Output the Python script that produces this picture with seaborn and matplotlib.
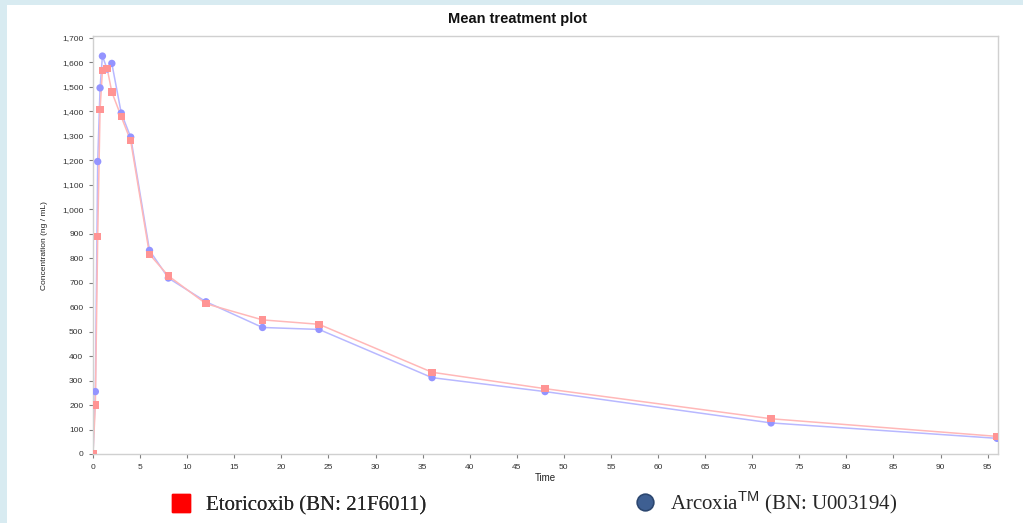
import matplotlib
matplotlib.use("Agg")
import matplotlib.pyplot as plt
import seaborn as sns
import pandas as pd
from matplotlib.lines import Line2D
from matplotlib.patches import Rectangle
from matplotlib.ticker import FuncFormatter, MultipleLocator

# ---- data ----
time = [0, 0.25, 0.5, 0.75, 1, 1.5, 2, 3, 4, 6, 8, 12, 18, 24, 36, 48, 72, 96]
etoricoxib = [0, 200, 890, 1408, 1566, 1576, 1479, 1378, 1280, 816, 728, 614, 548, 530, 334, 267, 144, 72]
arcoxia = [0, 255, 1195, 1496, 1626, 1573, 1596, 1393, 1295, 832, 719, 622, 517, 509, 312, 255, 127, 64]
series_names = ["Etoricoxib (BN: 21F6011)", "Arcoxia$^{\\mathsf{TM}}$ (BN: U003194)"]
title = "Mean treatment plot"
xlabel = "Time"
ylabel = "Concentration (ng / mL)"

df = pd.DataFrame({
    "Time": time * 2,
    "Conc": etoricoxib + arcoxia,
    "Treatment": ["E"] * len(time) + ["A"] * len(time),
})

sns.set_style("white")
plt.rcParams["font.family"] = ["Liberation Sans", "DejaVu Sans"]
plt.rcParams["mathtext.fontset"] = "custom"
plt.rcParams["mathtext.rm"] = "Liberation Serif"
plt.rcParams["mathtext.sf"] = "Liberation Sans"

W, H = 1023, 523
fig = plt.figure(figsize=(W / 100, H / 100), dpi=100, facecolor="#d8ebf1")
# white panel
fig.add_artist(Rectangle((7 / W, 0), 1 - 7 / W, 1 - 5 / H, transform=fig.transFigure,
                         facecolor="white", edgecolor="none", zorder=0))

ax = fig.add_axes([93 / W, (H - 454) / H, (998 - 93) / W, (454 - 36) / H])
ax.set_facecolor("white")

line_cols = {"E": "#ffb8b8", "A": "#b8b8ff"}
mark_cols = {"E": "#ff9494", "A": "#9494ff"}
markers = {"E": "s", "A": "o"}

for key in ["A", "E"]:
    sub = df[df["Treatment"] == key]
    sns.lineplot(data=sub, x="Time", y="Conc", ax=ax, color=line_cols[key], linewidth=1.1,
                 legend=False, zorder=2)
    sns.scatterplot(data=sub, x="Time", y="Conc", ax=ax, color=mark_cols[key],
                    marker=markers[key], s=28, edgecolor="none", legend=False, zorder=3)

ax.set_xlim(0, 96.1)
ax.set_ylim(0, 1708)
ax.xaxis.set_major_locator(MultipleLocator(5))
ax.yaxis.set_major_locator(MultipleLocator(100))
ax.yaxis.set_major_formatter(FuncFormatter(lambda v, p: f"{int(v):,}"))
ax.set_xlabel("")
ax.set_ylabel("")
for s in ax.spines.values():
    s.set_color("#d0d0d0")
    s.set_linewidth(1.0)
ax.tick_params(axis="both", which="major", direction="out", length=3, width=0.8,
               color="#808080", labelsize=6, labelcolor="#333333", pad=4,
               left=True, bottom=True)

fig.text(518 / W, 1 - 19 / H, title, ha="center", va="center", fontsize=10.5,
         fontweight="bold", color="#111111")
fig.text(545 / W, 1 - 478 / H, xlabel, ha="center", va="center", fontsize=7, color="#222222")
fig.text(45 / W, 1 - 246 / H, ylabel, ha="center", va="center", fontsize=6,
         rotation=90, color="#222222")

# legend
h1 = Line2D([], [], marker="s", linestyle="none", markersize=13, markerfacecolor="#ff0000",
            markeredgecolor="#ff0000")
h2 = Line2D([], [], marker="o", linestyle="none", markersize=12, markerfacecolor="#3e5f92",
            markeredgecolor="#2c4770", markeredgewidth=1.2)
leg1 = fig.legend(handles=[h1], labels=[series_names[0]], loc="center left",
                  bbox_to_anchor=(158 / W, 1 - 506 / H), frameon=False,
                  prop={"family": "Liberation Serif", "size": 15}, handletextpad=0.6,
                  borderpad=0, handlelength=1.2)
leg2 = fig.legend(handles=[h2], labels=[series_names[1]], loc="center left",
                  bbox_to_anchor=(622 / W, 1 - 503 / H), frameon=False,
                  prop={"family": "Liberation Serif", "size": 15}, handletextpad=0.6,
                  borderpad=0, handlelength=1.2)
fig.add_artist(leg1)

fig.savefig("out.png", dpi=100, facecolor=fig.get_facecolor())
